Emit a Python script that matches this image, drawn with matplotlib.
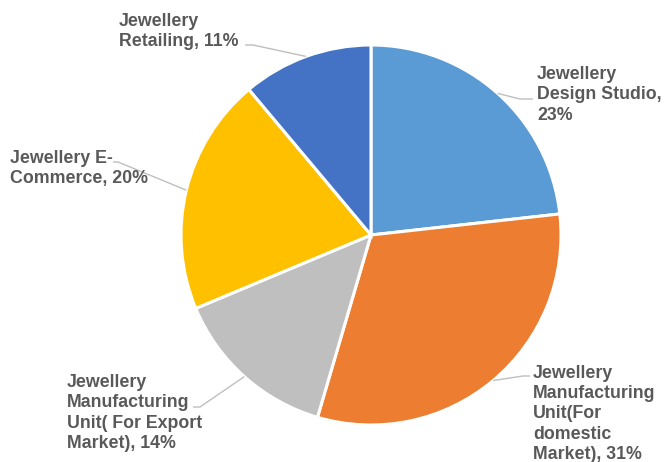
import numpy as np
import matplotlib
matplotlib.use("Agg")
import matplotlib.pyplot as plt

# Share of jewellery business segments
categories = [
    "Jewellery\nDesign Studio,\n23%",
    "Jewellery\nManufacturing\nUnit(For\ndomestic\nMarket), 31%",
    "Jewellery\nManufacturing\nUnit( For Export\nMarket), 14%",
    "Jewellery E-\nCommerce, 20%",
    "Jewellery\nRetailing, 11%",
]
shares = [23, 31, 14, 20, 11]
colors = ["#5B9BD5", "#ED7D31", "#BFBFBF", "#FFC000", "#4472C4"]

W, H = 664, 462
CX, CY, R = 371, 235, 190  # pie centre and radius in pixels

fig = plt.figure(figsize=(W / 100, H / 100), dpi=100)
ax = fig.add_axes([(CX - R) / W, (H - CY - R) / H, 2 * R / W, 2 * R / H])

wedges, _ = ax.pie(
    shares, colors=colors, startangle=90, counterclock=False, radius=1.0,
    wedgeprops=dict(edgecolor="white", linewidth=2.2),
)
ax.set_xlim(-1, 1)
ax.set_ylim(-1, 1)
ax.set_aspect("equal")
ax.axis("off")


def px(x, y):
    """Pixel position (from top-left) to pie data coordinates."""
    return (x - CX) / R, (CY - y) / R


# text top-left corner, elbow point and end point of the leader line (pixels)
layout = [
    dict(text=(537, 66), elbow=(520, 99), end=(533, 99), ha="left"),
    dict(text=(533, 365), elbow=(523, 376), end=(530, 376), ha="left"),
    dict(text=(67, 374), elbow=(200, 407), end=(193, 407), ha="left"),
    dict(text=(10, 150), elbow=(118, 162), end=(113, 162), ha="left"),
    dict(text=(119, 13), elbow=(253, 45), end=(245, 45), ha="left"),
]

for w, label, lay in zip(wedges, categories, layout):
    mid = np.deg2rad((w.theta1 + w.theta2) / 2)
    ex, ey = np.cos(mid), np.sin(mid)
    bx, by = px(*lay["elbow"])
    tx, ty = px(*lay["end"])
    ax.plot([ex, bx, tx], [ey, by, ty], color="#BFBFBF", lw=1.0,
            clip_on=False, solid_capstyle="butt")
    lx, ly = px(*lay["text"])
    ax.text(lx, ly, label, ha=lay["ha"], va="top", fontsize=12.8,
            fontweight="bold", color="#595959", family="Liberation Sans",
            linespacing=1.25, clip_on=False)

fig.savefig("out.png", dpi=100)
